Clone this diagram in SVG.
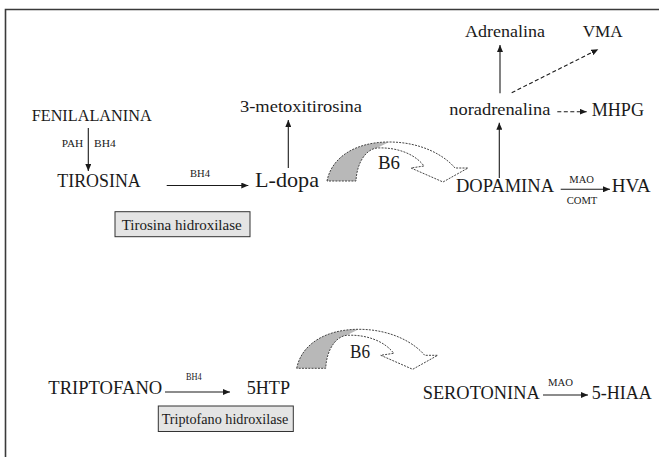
<svg xmlns="http://www.w3.org/2000/svg" xmlns:xlink="http://www.w3.org/1999/xlink" width="659" height="457" viewBox="0 0 659 457">
<style>
text{font-family:"Liberation Serif","DejaVu Serif","Times New Roman",serif;fill:#1a1a1a}
.sm{font-size:10px}
.conn{stroke:#1a1a1a;stroke-width:1.1;fill:none}
.dash{stroke-dasharray:4 2.5}
.box{fill:#e4e4e4;stroke:#333;stroke-width:1}
.frame{stroke:#3a3a3a;stroke-width:1.6;fill:none}
</style>
<defs>
<marker id="ah" markerUnits="userSpaceOnUse" markerWidth="8" markerHeight="6" refX="7" refY="3" orient="auto">
<path d="M0,0 L7,3 L0,6 z" fill="#1a1a1a"/>
</marker>
<g id="b6arrow">
<path d="M0,0 C5,-25 30,-39 62,-39 L50,-33 C40,-32 30,-20 29,0 Z" fill="#b8b8b8"/>
<path d="M0,0 C5,-25 30,-39 62,-39 C95,-39 118,-25 128,-13 L141,-13 L116,1 L84,-13 L97,-15 C88,-27 70,-34 50,-33 C40,-32 30,-20 29,0 Z" fill="none" stroke="#444" stroke-width="1" stroke-dasharray="2 1.2"/>
</g>
</defs>
<rect width="659" height="457" fill="#fff"/>
<path class="frame" d="M5.5,457 L5.5,9.5 L659,9.5"/>

<g id="connectors">
<line class="conn" x1="88.3" y1="128" x2="88.3" y2="171" marker-end="url(#ah)"/>
<line class="conn" x1="166.7" y1="185.5" x2="248.3" y2="185.5" marker-end="url(#ah)"/>
<line class="conn" x1="288.3" y1="168" x2="288.3" y2="120" marker-end="url(#ah)"/>
<line class="conn" x1="499.3" y1="178" x2="499.3" y2="122.7" marker-end="url(#ah)"/>
<line class="conn" x1="500" y1="93.3" x2="500" y2="45" marker-end="url(#ah)"/>
<line class="conn dash" x1="511.7" y1="92.7" x2="598.3" y2="49.3" marker-end="url(#ah)"/>
<line class="conn dash" x1="557.3" y1="111.7" x2="586.7" y2="111.7" marker-end="url(#ah)"/>
<line class="conn" x1="560.7" y1="189.3" x2="610" y2="189.3" marker-end="url(#ah)"/>
<line class="conn" x1="165" y1="392" x2="230" y2="392" marker-end="url(#ah)"/>
<line class="conn" x1="543" y1="395" x2="588" y2="395" marker-end="url(#ah)"/>
<use xlink:href="#b6arrow" href="#b6arrow" transform="translate(327,181)"/>
<use xlink:href="#b6arrow" href="#b6arrow" transform="translate(296.7,368.3)"/>
</g>

<g id="labels">
<text class="sm" x="61.7" y="147" textLength="21.6" lengthAdjust="spacingAndGlyphs">PAH</text>
<text class="sm" x="94" y="147" textLength="21.7" lengthAdjust="spacingAndGlyphs">BH4</text>
<text class="sm" x="190" y="176.5" textLength="20" lengthAdjust="spacingAndGlyphs">BH4</text>
<text class="sm" x="569.3" y="183.3" textLength="24.7" lengthAdjust="spacingAndGlyphs">MAO</text>
<text class="sm" x="566.7" y="204" textLength="30.6" lengthAdjust="spacingAndGlyphs">COMT</text>
<text class="sm" x="186" y="380" font-size="9" textLength="15.7" lengthAdjust="spacingAndGlyphs">BH4</text>
<text class="sm" x="548" y="386" textLength="25" lengthAdjust="spacingAndGlyphs">MAO</text>
<text x="378" y="169" font-size="19" textLength="22" lengthAdjust="spacingAndGlyphs">B6</text>
<text x="350" y="358" font-size="18" textLength="20" lengthAdjust="spacingAndGlyphs">B6</text>
</g>

<g id="fenilalanina"><text x="31.7" y="120.7" font-size="16" textLength="120" lengthAdjust="spacingAndGlyphs">FENILALANINA</text></g>
<g id="tirosina"><text x="57.3" y="186.7" font-size="19" textLength="83.4" lengthAdjust="spacingAndGlyphs">TIROSINA</text></g>
<g id="ldopa"><text x="255" y="187.3" font-size="21" textLength="64" lengthAdjust="spacingAndGlyphs">L-dopa</text></g>
<g id="metoxitirosina"><text x="240" y="112" font-size="17" textLength="122" lengthAdjust="spacingAndGlyphs">3-metoxitirosina</text></g>
<g id="tirosina-hidroxilase">
<rect class="box" x="115" y="211.7" width="135" height="25"/>
<text x="121.7" y="230" font-size="14" textLength="120" lengthAdjust="spacingAndGlyphs">Tirosina hidroxilase</text>
</g>
<g id="adrenalina"><text x="465" y="37.3" font-size="17" textLength="80" lengthAdjust="spacingAndGlyphs">Adrenalina</text></g>
<g id="vma"><text x="582.7" y="37.3" font-size="17" textLength="40" lengthAdjust="spacingAndGlyphs">VMA</text></g>
<g id="noradrenalina"><text x="449.3" y="115" font-size="17" textLength="101" lengthAdjust="spacingAndGlyphs">noradrenalina</text></g>
<g id="mhpg"><text x="591.7" y="116" font-size="18" textLength="52.3" lengthAdjust="spacingAndGlyphs">MHPG</text></g>
<g id="dopamina"><text x="456" y="191.7" font-size="19" textLength="98" lengthAdjust="spacingAndGlyphs">DOPAMINA</text></g>
<g id="hva"><text x="611.7" y="192.3" font-size="18" textLength="39" lengthAdjust="spacingAndGlyphs">HVA</text></g>
<g id="triptofano"><text x="48.3" y="394" font-size="19" textLength="114" lengthAdjust="spacingAndGlyphs">TRIPTOFANO</text></g>
<g id="5htp"><text x="246.7" y="394" font-size="18" textLength="43.3" lengthAdjust="spacingAndGlyphs">5HTP</text></g>
<g id="triptofano-hidroxilase">
<rect class="box" x="158.3" y="406" width="135" height="25.5"/>
<text x="161.7" y="423.5" font-size="14" textLength="126.6" lengthAdjust="spacingAndGlyphs">Triptofano hidroxilase</text>
</g>
<g id="serotonina"><text x="422.7" y="399" font-size="18" textLength="117" lengthAdjust="spacingAndGlyphs">SEROTONINA</text></g>
<g id="5hiaa"><text x="591.7" y="399" font-size="18" textLength="60" lengthAdjust="spacingAndGlyphs">5-HIAA</text></g>
</svg>
